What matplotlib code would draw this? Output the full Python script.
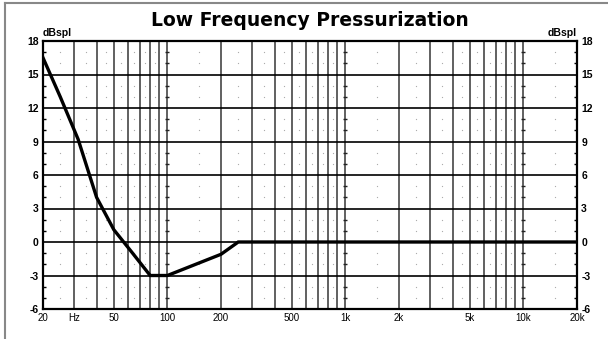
import matplotlib.pyplot as plt
from matplotlib.lines import Line2D
import numpy as np

# --- adatok ---
freq = [20, 25, 31.5, 40, 50, 63, 80, 100, 200, 250, 20000]
level = [16.5, 13.0, 9.2, 4.0, 1.1, -0.9, -3.0, -3.0, -1.1, 0.0, 0.0]

xticks = [20, 30, 50, 100, 200, 500, 1000, 2000, 5000, 10000, 20000]
xlabels = ['20', 'Hz', '50', '100', '200', '500', '1k', '2k', '5k', '10k', '20k']
yticks = [-6, -3, 0, 3, 6, 9, 12, 15, 18]

vgrid = list(range(30, 100, 10)) + list(range(100, 1000, 100)) + list(range(1000, 10001, 1000))
dot_freqs = list(range(25, 90, 10)) + list(range(150, 900, 100)) + list(range(1500, 9000, 1000)) + [15000]
minor_db = [d for d in range(-5, 18) if d % 3 != 0]
decades = [100, 1000, 10000]

plt.rcParams['font.family'] = ['Liberation Sans', 'DejaVu Sans']

fig = plt.figure(figsize=(6.08, 3.39), dpi=100)
ax = fig.add_axes([43 / 608, 1 - 309 / 339, 534 / 608, 268 / 339])

ax.set_xscale('log')
ax.set_xlim(20, 20000)
ax.set_ylim(-6, 18)

# racs
for f in vgrid:
    ax.axvline(f, color='#454545', lw=1.2, zorder=1)
for d in yticks[1:-1]:
    ax.axhline(d, color='black', lw=1.2, zorder=1)

# pontozott segedracs
dx, dy = np.meshgrid(dot_freqs, minor_db)
ax.plot(dx.ravel(), dy.ravel(), 'o', color='#aaaaaa', markersize=0.9, mec='none', zorder=1)

# dekad vonalak rovatkai
tx, ty = np.meshgrid(decades, minor_db)
ax.plot(tx.ravel(), ty.ravel(), '_', color='#222222', markersize=3.2, mew=1.0, zorder=2)

# gorbe
ax.plot(freq, level, color='black', lw=2.4, solid_joinstyle='miter', zorder=3)

ax.set_xticks(xticks)
ax.set_xticklabels(xlabels, fontsize=7)
ax.xaxis.set_minor_locator(plt.NullLocator())
ax.tick_params(axis='x', which='major', length=0, pad=3)

ax.set_yticks(yticks)
ax.set_yticklabels([str(v) for v in yticks], fontsize=7.5, fontweight='bold')
ax.set_yticks(minor_db, minor=True)
ax.tick_params(axis='y', which='major', length=0, pad=3, left=True, right=True,
               labelleft=True, labelright=True)
ax.tick_params(axis='y', which='minor', direction='in', length=2.5, width=1,
               left=True, right=True)

for s in ax.spines.values():
    s.set_linewidth(1.6)

ax.text(0, 1.012, 'dBspl', transform=ax.transAxes, fontsize=7.5, fontweight='bold',
        ha='left', va='bottom')
ax.text(1, 1.012, 'dBspl', transform=ax.transAxes, fontsize=7.5, fontweight='bold',
        ha='right', va='bottom')

fig.text(310 / 608, 1 - 21 / 339, 'Low Frequency Pressurization', fontsize=13.5,
         fontweight='bold', family='DejaVu Sans', ha='center', va='center')

# keret
fig.add_artist(Line2D([5 / 608, 1], [1 - 3.3 / 339] * 2, color='#888888', lw=1.5,
                      transform=fig.transFigure))
fig.add_artist(Line2D([5 / 608] * 2, [0, 1 - 3.3 / 339], color='#888888', lw=1.5,
                      transform=fig.transFigure))

plt.savefig('out.png', dpi=100)
